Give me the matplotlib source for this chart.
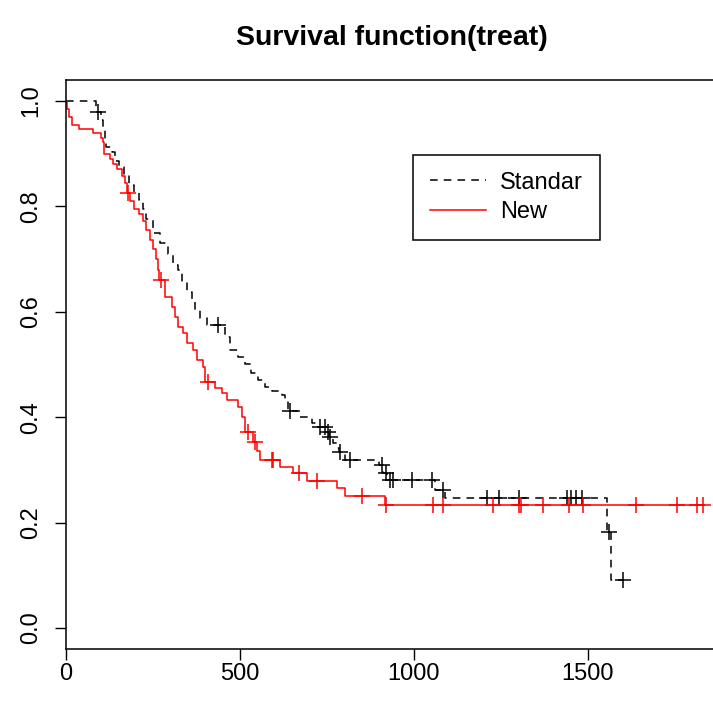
import numpy as np
import matplotlib.pyplot as plt

# Kaplan-Meier steps: event times and survival after each event
std_times = [0, 86, 100, 106, 113, 116, 131, 141, 151, 166, 181, 195, 210, 221, 230,
             250, 270, 293, 307, 322, 332, 347, 361, 371, 385, 404, 457, 471, 494, 514,
             533, 552, 572, 591, 620, 629, 638, 672, 706, 720, 747, 757, 767, 778, 784,
             802, 900, 912, 923, 1060, 1088, 1555, 1566]
std_surv = [1.0, 0.98, 0.964, 0.945, 0.926, 0.913, 0.903, 0.887, 0.874, 0.861, 0.84,
            0.825, 0.812, 0.795, 0.776, 0.75, 0.73, 0.71, 0.689, 0.68, 0.655, 0.638,
            0.622, 0.603, 0.588, 0.575, 0.553, 0.527, 0.515, 0.50, 0.484, 0.47, 0.458,
            0.449, 0.442, 0.43, 0.411, 0.40, 0.389, 0.382, 0.372, 0.362, 0.351, 0.341,
            0.333, 0.319, 0.309, 0.294, 0.281, 0.262, 0.246, 0.182, 0.091]
std_censor = [92, 438, 644, 730, 744, 752, 760, 787, 816, 907, 921, 931, 940, 993, 1051,
              1083, 1211, 1244, 1302, 1439, 1450, 1465, 1482, 1560, 1600]

new_times = [0, 4, 8, 17, 37, 77, 100, 105, 110, 126, 136, 147, 161, 170, 175, 185, 195,
             210, 222, 230, 241, 250, 258, 264, 268, 284, 304, 313, 322, 336, 347, 365,
             376, 394, 399, 428, 447, 462, 494, 505, 514, 537, 548, 557, 615, 652, 692,
             778, 802, 917]
new_surv = [1.0, 0.985, 0.969, 0.955, 0.947, 0.94, 0.93, 0.923, 0.90, 0.89, 0.88, 0.871,
            0.858, 0.844, 0.825, 0.81, 0.795, 0.785, 0.772, 0.755, 0.736, 0.72, 0.70,
            0.68, 0.66, 0.629, 0.61, 0.59, 0.572, 0.56, 0.54, 0.527, 0.508, 0.496, 0.467,
            0.455, 0.446, 0.433, 0.42, 0.40, 0.372, 0.353, 0.335, 0.319, 0.306, 0.295,
            0.279, 0.265, 0.25, 0.233]
new_censor = [178, 272, 409, 524, 543, 592, 596, 670, 722, 850, 921, 1055, 1083, 1227,
              1303, 1307, 1371, 1446, 1485, 1638, 1756, 1813, 1830]

labels = ["Standar", "New"]
colors = ["black", "red"]


def surv_at(times, surv, t):
    # value of the step function at time t
    idx = np.searchsorted(times, t, side="right") - 1
    return np.asarray(surv)[idx]


W, H = 713, 705
fig = plt.figure(figsize=(W / 100, H / 100), dpi=100)
plt.rcParams["font.family"] = ["Liberation Sans", "DejaVu Sans"]

# plot box in pixels: left 66, top 80, bottom 649, right runs past the image edge
left, right, top, bottom = 66, 732, 80, 649
ax = fig.add_axes([left / W, 1 - bottom / H, (right - left) / W, (bottom - top) / H])

curves = [(std_times, std_surv, std_censor, (0, (5, 4))),
          (new_times, new_surv, new_censor, "-")]
for (tt, ss, cc, ls), lab, col in zip(curves, labels, colors):
    end = max(cc[-1], tt[-1])
    xs = list(tt) + [end]
    ys = list(ss) + [ss[-1]]
    ax.step(xs, ys, where="post", color=col, lw=1.1, linestyle=ls, label=lab)
    ax.plot(cc, surv_at(tt, ss, cc), linestyle="none", marker="+", ms=12,
            mew=1.1, color=col)

ax.set_xlim(0, 1914)
ax.set_ylim(-0.04, 1.04)
ax.set_xticks([0, 500, 1000, 1500])
ax.set_yticks([0.0, 0.2, 0.4, 0.6, 0.8, 1.0])
ax.set_yticklabels(["0.0", "0.2", "0.4", "0.6", "0.8", "1.0"], rotation=90, va="center")
ax.tick_params(length=8, width=1, labelsize=17, color="black")
ax.tick_params(axis="x", pad=2)
ax.tick_params(axis="y", pad=9)
for sp in ax.spines.values():
    sp.set_linewidth(1.1)

leg = ax.legend(loc="upper left", bbox_to_anchor=((413 - left) / (right - left),
                                                  (bottom - 155) / (bottom - top)),
                borderaxespad=0, fontsize=17, frameon=True, fancybox=False,
                edgecolor="black", framealpha=1, handlelength=2.4,
                handletextpad=0.6, borderpad=0.7, labelspacing=0.33)
leg.get_frame().set_linewidth(1.1)

fig.text(392 / W, 1 - 38 / H, "Survival function(treat)", ha="center", va="center",
         fontsize=20.5, fontweight="bold")

fig.savefig("out.png", dpi=100)
